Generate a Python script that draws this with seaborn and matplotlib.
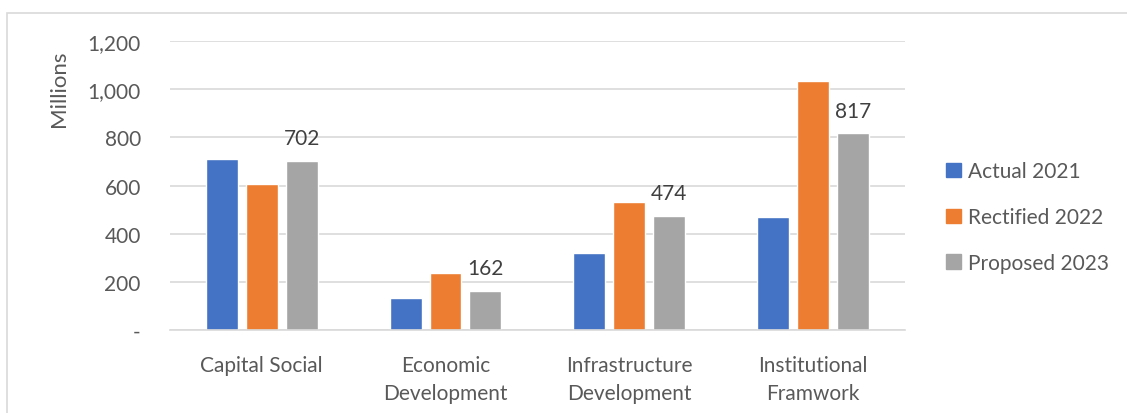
import pandas as pd
import matplotlib.pyplot as plt
import seaborn as sns
from matplotlib.patches import Rectangle
from matplotlib.ticker import FuncFormatter

# Chart data (millions)
categories = ['Capital Social', 'Economic\nDevelopment', 'Infrastructure\nDevelopment', 'Institutional\nFramwork']
series = ['Actual 2021', 'Rectified 2022', 'Proposed 2023']
actual_2021 = [708, 134, 319, 469]
rectified_2022 = [608, 238, 532, 1035]
proposed_2023 = [702, 162, 474, 817]
colors = ['#4472C4', '#ED7D31', '#A5A5A5']

rows = []
for name, vals in zip(series, [actual_2021, rectified_2022, proposed_2023]):
    for cat, v in zip(categories, vals):
        rows.append({'Category': cat, 'Series': name, 'Value': v})
df = pd.DataFrame(rows)

sns.set_style('white')
plt.rcParams['font.family'] = ['Lato', 'DejaVu Sans']
text_color = '#595959'
grid_color = '#D9D9D9'

fig = plt.figure(figsize=(11.27, 4.14), dpi=100)
ax = fig.add_axes([0.1508, 0.2005, 0.652, 0.698])

sns.barplot(data=df, x='Category', y='Value', hue='Series', palette=colors,
            width=0.652, gap=0.2, saturation=1, ax=ax, legend=False)

ax.set_xlim(-0.5, 3.5)
ax.set_ylim(0, 1200)
ax.set_yticks(range(0, 1201, 200))
ax.yaxis.set_major_formatter(FuncFormatter(lambda v, p: '-' if v == 0 else f'{int(v):,}'))
ax.grid(axis='y', color=grid_color, linewidth=1.2)
ax.set_axisbelow(True)
for side in ['top', 'right', 'left']:
    ax.spines[side].set_visible(False)
ax.spines['bottom'].set_color(grid_color)
ax.spines['bottom'].set_linewidth(1.2)
ax.tick_params(axis='both', length=0, labelsize=15, colors=text_color)
ax.tick_params(axis='y', pad=21)
ax.tick_params(axis='x', pad=18)
for lbl in ax.get_xticklabels():
    lbl.set_linespacing(1.5)
ax.set_xlabel('')
ax.set_ylabel('Millions', fontsize=16, color=text_color)
ax.yaxis.set_label_coords(-0.138, 0.837)

# data labels on the Proposed 2023 bars
ax.bar_label(ax.containers[2], labels=[str(v) for v in proposed_2023],
             padding=9, fontsize=15, color='#404040')

handles = [Rectangle((0, 0), 1, 1, color=c) for c in colors]
fig.legend(handles, series, loc='center left', bbox_to_anchor=(0.823, 0.473),
           frameon=False, fontsize=15, labelcolor=text_color,
           handlelength=0.7, handleheight=0.7, handletextpad=0.35, labelspacing=1.24)

# light outer border of the chart area
fig.patches.append(Rectangle((7 / 1127, -0.01), 1.0, 1 - 14 / 414 + 0.01,
                             transform=fig.transFigure, fill=False,
                             edgecolor=grid_color, linewidth=1.2))

fig.savefig('out.png', dpi=100)
